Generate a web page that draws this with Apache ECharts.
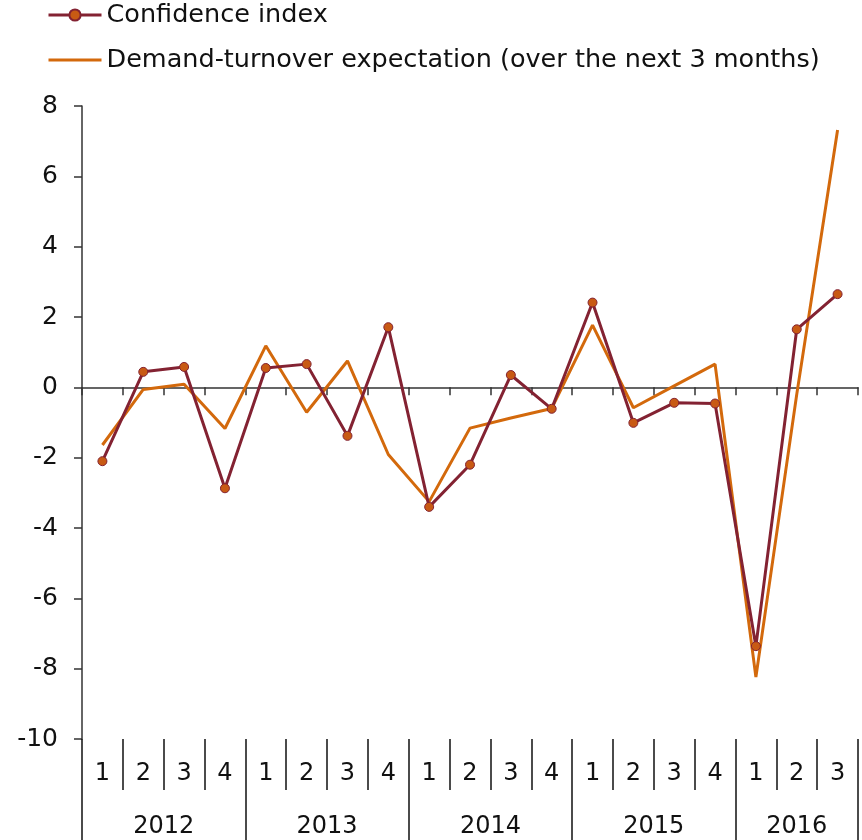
<!DOCTYPE html>
<html>
<head>
    <meta charset="UTF-8">
    <title>Confidence index</title>
    <style>
        body { margin: 0; background: #fff; }
        #chart { width: 862px; height: 840px; }
    </style>
</head>
<body>
    <div id="chart"></div>
    <script src="https://cdn.jsdelivr.net/npm/echarts@6/dist/echarts.min.js"></script>
    <script>
        // quarters 2012 Q1 .. 2016 Q3
        const quarters = ['1', '2', '3', '4', '1', '2', '3', '4', '1', '2', '3', '4', '1', '2', '3', '4', '1', '2', '3'];
        const years = ['2012', '2013', '2014', '2015', '2016'];
        const yearCenters = [2, 6, 10, 14, 17.5];
        const yearBounds = [0, 4, 8, 12, 16, 19];
        const confidence = [-2.1, 0.44, 0.58, -2.87, 0.55, 0.66, -1.38, 1.71, -3.4, -2.2, 0.35, -0.61, 2.41, -1.01, -0.44, -0.46, -7.36, 1.65, 2.65];
        const demand = [-1.64, -0.06, 0.09, -1.17, 1.18, -0.71, 0.75, -1.91, -3.25, -1.16, -0.87, -0.6, 1.77, -0.58, 0.04, 0.66, -8.24, -0.2, 7.32];

        const font = 'DejaVu Sans';
        const axisColor = '#333';
        const quarterCenters = quarters.map((q, i) => i + 0.5);
        const quarterBounds = quarters.map((q, i) => i).slice(1);

        const chart = echarts.init(document.getElementById('chart'));
        chart.setOption({
            animation: false,
            textStyle: { fontFamily: font },
            legend: {
                orient: 'vertical',
                left: 47,
                top: 0,
                padding: 0,
                itemWidth: 53,
                itemHeight: 14,
                itemGap: 15,
                lineStyle: { width: 3 },
                textStyle: { fontSize: 25.5, color: '#111', lineHeight: 30, fontFamily: font },
                data: [
                    { name: 'Confidence index' },
                    { name: 'Demand-turnover expectation (over the next 3 months)', itemStyle: { opacity: 0 } }
                ]
            },
            grid: { left: 82, right: 4, top: 106, bottom: 101, containLabel: false },
            xAxis: [
                {
                    type: 'category',
                    data: quarters,
                    boundaryGap: true,
                    axisLine: { onZero: true, lineStyle: { color: axisColor, width: 1.5 } },
                    axisTick: { show: true, length: 8, lineStyle: { color: axisColor, width: 1.5 } },
                    axisLabel: { show: false },
                    splitLine: { show: false }
                },
                {
                    type: 'value',
                    min: 0,
                    max: 19,
                    position: 'bottom',
                    axisLine: { show: false, onZero: false },
                    axisTick: { show: true, length: 51, customValues: quarterBounds, lineStyle: { color: '#111', width: 1.5 } },
                    axisLabel: {
                        customValues: quarterCenters,
                        margin: 23,
                        fontSize: 24,
                        color: '#111',
                        formatter: v => quarters[Math.floor(v)]
                    },
                    splitLine: { show: false }
                },
                {
                    type: 'value',
                    min: 0,
                    max: 19,
                    position: 'bottom',
                    axisLine: { show: false, onZero: false },
                    axisTick: { show: true, length: 102, customValues: yearBounds, lineStyle: { color: '#111', width: 1.5 } },
                    axisLabel: {
                        customValues: yearCenters,
                        margin: 76,
                        fontSize: 24,
                        color: '#111',
                        formatter: v => years[yearCenters.indexOf(v)]
                    },
                    splitLine: { show: false }
                }
            ],
            yAxis: {
                type: 'value',
                min: -10,
                max: 8,
                interval: 2,
                axisLine: { show: true, lineStyle: { color: axisColor, width: 1.5 } },
                axisTick: { show: true, length: 8, lineStyle: { color: axisColor, width: 1.5 } },
                axisLabel: { margin: 24, fontSize: 25, color: '#111' },
                splitLine: { show: false }
            },
            series: [
                {
                    name: 'Confidence index',
                    type: 'line',
                    data: confidence,
                    symbol: 'circle',
                    symbolSize: 9,
                    showSymbol: true,
                    lineStyle: { color: '#832232', width: 3 },
                    itemStyle: { color: '#C85A14', borderColor: '#832232', borderWidth: 1 },
                    z: 3
                },
                {
                    name: 'Demand-turnover expectation (over the next 3 months)',
                    type: 'line',
                    data: demand,
                    symbol: 'none',
                    lineStyle: { color: '#D3690C', width: 3 },
                    itemStyle: { color: '#D3690C' },
                    z: 2
                }
            ]
        });
    </script>
</body>
</html>
